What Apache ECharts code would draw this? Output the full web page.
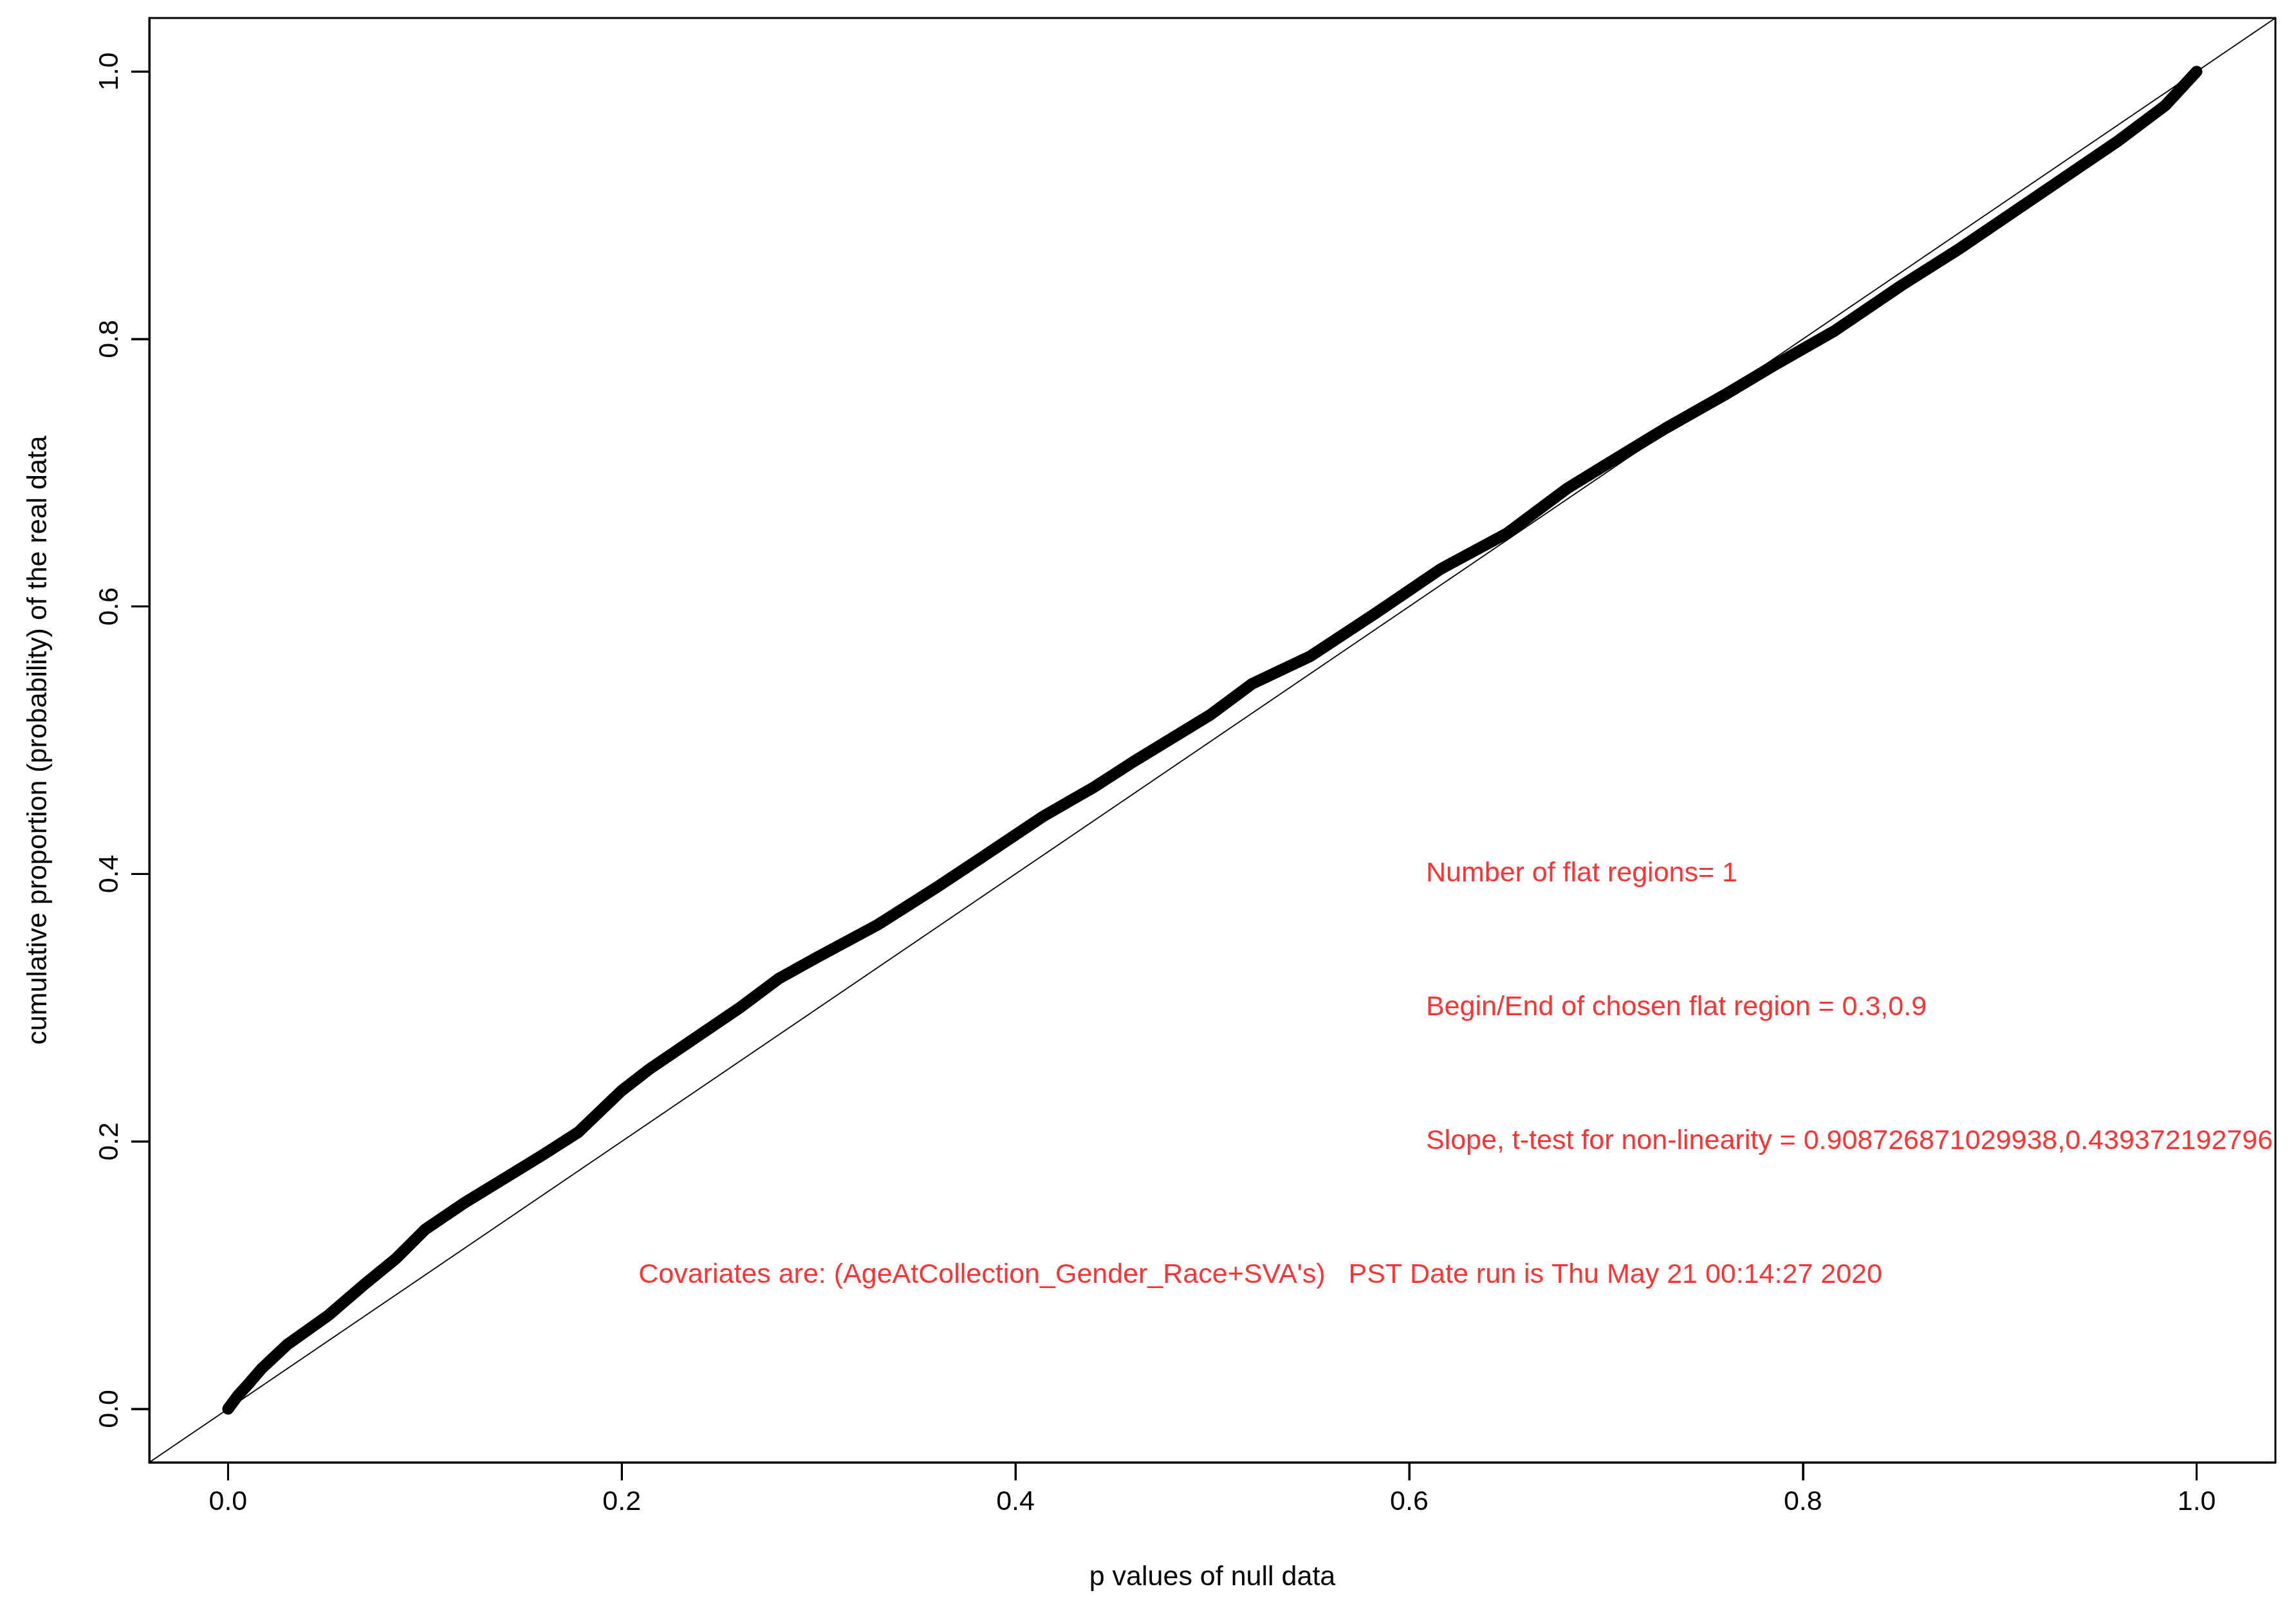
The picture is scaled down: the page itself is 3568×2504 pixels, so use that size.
<!DOCTYPE html>
<html>
<head>
<meta charset="utf-8">
<title>p values of null data</title>
<script src="https://cdn.jsdelivr.net/npm/echarts@6.0.0/dist/echarts.min.js"></script>
<style>
  html, body { margin: 0; padding: 0; background: #fff; }
  #chart { width: 3568px; height: 2504px; }
</style>
</head>
<body>
<div id="chart"></div>
<script>
// values
const nullP = [0, 0.005, 0.01, 0.017, 0.03, 0.051, 0.07, 0.085, 0.1, 0.12, 0.14, 0.16, 0.178, 0.2, 0.214,
  0.24, 0.26, 0.28, 0.299, 0.33, 0.36, 0.382, 0.414, 0.44, 0.46, 0.499, 0.52, 0.55, 0.583, 0.616,
  0.65, 0.68, 0.701, 0.73, 0.76, 0.785, 0.816, 0.85, 0.88, 0.901, 0.93, 0.96, 0.984, 1.0];
const realCum = [0, 0.01, 0.018, 0.03, 0.048, 0.07, 0.094, 0.112, 0.134, 0.154, 0.172, 0.19, 0.207, 0.238, 0.254,
  0.28, 0.3, 0.322, 0.3375, 0.362, 0.39, 0.4115, 0.443, 0.465, 0.484, 0.519, 0.542, 0.563, 0.595, 0.628,
  0.655, 0.688, 0.707, 0.733, 0.758, 0.78, 0.806, 0.84, 0.868, 0.889, 0.918, 0.948, 0.9745, 1.0];
const diagonal = [-0.04, 1.04];
const tickValues = [0, 0.2, 0.4, 0.6, 0.8, 1.0];

const notes = [
  { x: 0.6, y: 0.4, text: 'Number of flat regions= 1' },
  { x: 0.6, y: 0.3, text: 'Begin/End of chosen flat region = 0.3,0.9' },
  { x: 0.6, y: 0.2, text: 'Slope, t-test for non-linearity = 0.908726871029938,0.439372192796' },
  { x: 0.2, y: 0.1, text: "Covariates are: (AgeAtCollection_Gender_Race+SVA's)   PST Date run is Thu May 21 00:14:27 2020" }
];

const FONT = '"Liberation Sans", Arial, sans-serif';

const chart = echarts.init(document.getElementById('chart'));

// the outward tick mark is drawn as a small filled token of the label itself,
// so it always sits on the box edge next to its number
const tickToken = { width: 3, height: 28, lineHeight: 28, fontSize: 1, backgroundColor: '#000' };

function axisCommon(name, gap, rotate, fmt, pad) {
  return {
    type: 'value',
    min: -0.04,
    max: 1.04,
    name: name,
    nameLocation: 'middle',
    nameGap: gap,
    nameTextStyle: { color: '#000', fontSize: 43, fontFamily: FONT },
    axisLine: { show: true, onZero: false, lineStyle: { color: '#000', width: 3 } },
    splitLine: { show: false },
    axisTick: {
      show: true,
      length: 28,
      customValues: tickValues,
      lineStyle: { color: '#000', width: 3 }
    },
    axisLabel: {
      customValues: tickValues,
      margin: 0,
      rotate: rotate,
      formatter: fmt,
      rich: {
        t: tickToken,
        v: { color: '#000', fontSize: 43, lineHeight: 43, fontFamily: FONT, padding: pad }
      }
    }
  };
}

chart.setOption({
  animation: false,
  grid: { left: 232, right: 32, top: 28, bottom: 231, show: true, borderColor: '#000', borderWidth: 3 },
  xAxis: axisCommon('p values of null data', 158, 0,
    v => '{t| }\n{v|' + v.toFixed(1) + '}', [26, 0, 0, 0]),
  yAxis: axisCommon('cumulative proportion (probability) of the real data', 150, 90,
    v => '{v|' + v.toFixed(1) + '}\n{t| }', [0, 0, 22, 0]),
  series: [
    {
      type: 'line',
      data: diagonal.map(v => [v, v]),
      showSymbol: false,
      lineStyle: { color: '#000', width: 2 }
    },
    {
      type: 'line',
      data: nullP.map((x, i) => [x, realCum[i]]),
      showSymbol: false,
      lineStyle: { color: '#000', width: 18, cap: 'round', join: 'round' }
    },
    {
      type: 'scatter',
      data: notes.map(n => ({ value: [n.x, n.y], label: { formatter: n.text } })),
      symbolSize: 0,
      silent: true,
      label: {
        show: true,
        position: 'right',
        distance: 26,
        color: '#ff0000',
        fontSize: 43,
        fontFamily: FONT
      }
    }
  ]
});
</script>
</body>
</html>
